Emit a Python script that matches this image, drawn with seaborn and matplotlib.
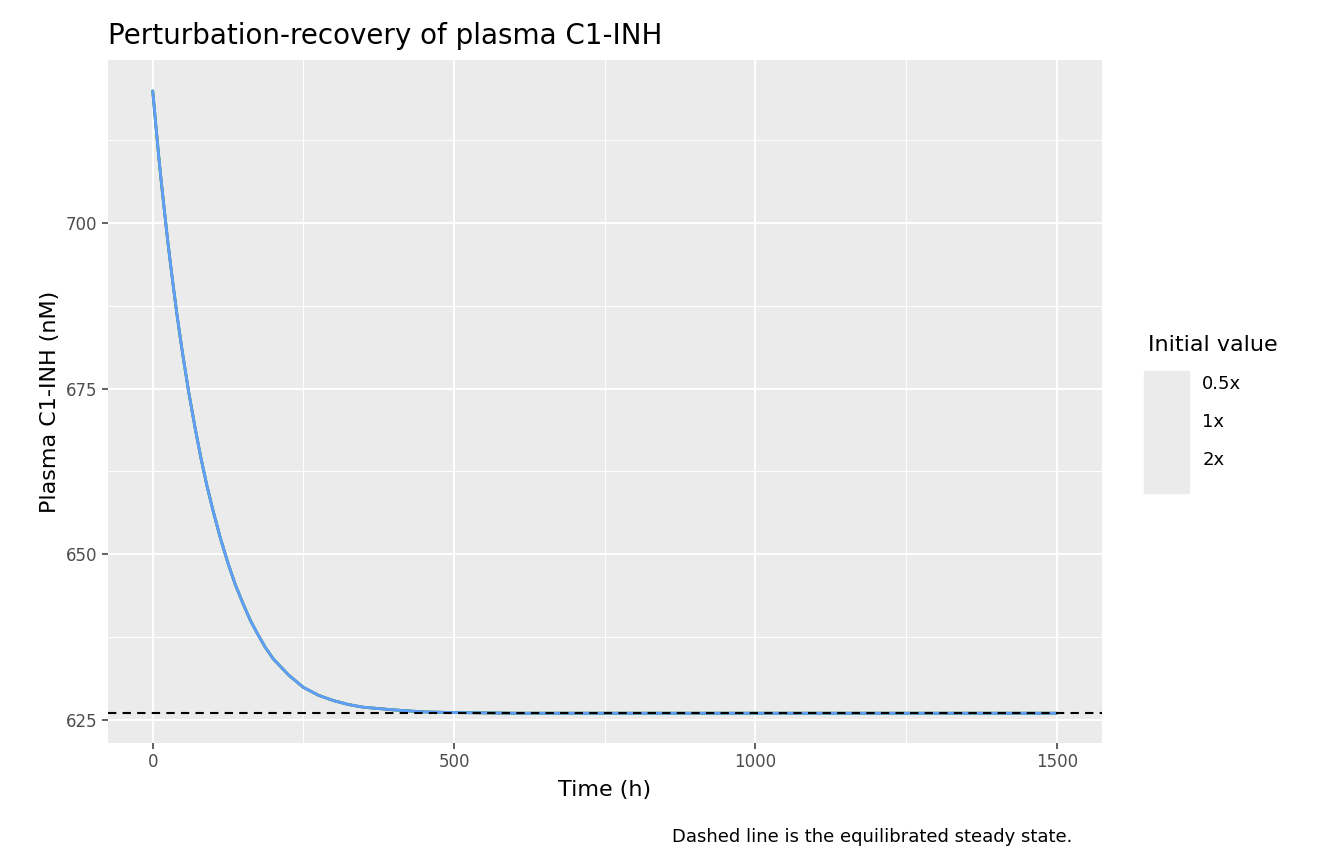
import numpy as np
import pandas as pd
import seaborn as sns
from matplotlib import pyplot as plt
from matplotlib.patches import Rectangle

time_h = [0, 5, 10, 15, 20, 25, 30, 35, 40, 45, 50, 60, 70, 80, 90, 100, 112, 125,
          137, 150, 162, 175, 187, 200, 225, 250, 275, 300, 325, 350, 400, 450,
          500, 600, 700, 800, 1000, 1200, 1500]
c1inh = [719.9, 714.9, 710.0, 705.5, 701.3, 697.2, 693.4, 689.8, 686.3, 683.1,
         680.0, 674.3, 669.2, 664.5, 660.3, 656.6, 652.5, 648.6, 645.4, 642.5,
         640.0, 637.8, 635.9, 634.2, 631.8, 629.9, 628.7, 627.9, 627.3, 626.9,
         626.5, 626.2, 626.1, 626.0, 626.0, 626.0, 626.0, 626.0, 626.0]
groups = ["0.5x", "1x", "2x"]
colors = ["#F8766D", "#00BA38", "#619CFF"]
steady_state = 626.0

df = pd.concat([pd.DataFrame({"time": time_h, "conc": c1inh, "Initial value": g}) for g in groups])

sns.set_theme(style="darkgrid", rc={"axes.facecolor": "#EBEBEB", "grid.color": "white",
                                    "text.color": "black", "axes.labelcolor": "black"})
fig, ax = plt.subplots(figsize=(13.44, 8.64), dpi=100)
sns.lineplot(data=df, x="time", y="conc", hue="Initial value", palette=colors, ax=ax, linewidth=2)
ax.axhline(steady_state, color="black", linestyle=(0, (4, 3)), linewidth=1.5)

ax.set_xlim(-75, 1575)
ax.set_ylim(621.5, 724.5)
ax.set_xticks([0, 500, 1000, 1500])
ax.set_xticks([250, 750, 1250], minor=True)
ax.set_yticks([625, 650, 675, 700])
ax.set_yticks([637.5, 662.5, 687.5, 712.5], minor=True)
ax.grid(which="major", linewidth=1.4)
ax.grid(which="minor", linewidth=0.7, color="white")
ax.tick_params(labelsize=12, colors="#4D4D4D", length=4, which="major", left=True, bottom=True)
for s in ax.spines.values():
    s.set_visible(False)
ax.set_xlabel("Time (h)", fontsize=16, labelpad=6)
ax.set_ylabel("Plasma C1-INH (nM)", fontsize=16, labelpad=4)
ax.set_title("Perturbation-recovery of plasma C1-INH", fontsize=20, loc="left", pad=12)

leg = ax.legend(title="Initial value", loc="center left", bbox_to_anchor=(1.03, 0.5),
                frameon=False, fontsize=13, title_fontsize=16, handlelength=2.2,
                labelspacing=1.1)
leg._legend_box.align = "left"
fig.canvas.draw()
# grey key background like ggplot
bb = leg.get_window_extent()
fig.patches.append(Rectangle((1144 / 1344, 371 / 864), 45 / 1344, 122 / 864,
                             transform=fig.transFigure, color="#EBEBEB", zorder=0))
fig.text(0.798, 0.025, "Dashed line is the equilibrated steady state.", ha="right", fontsize=13)
fig.subplots_adjust(left=0.08, right=0.82, top=0.93, bottom=0.14)
fig.savefig("out.png")
